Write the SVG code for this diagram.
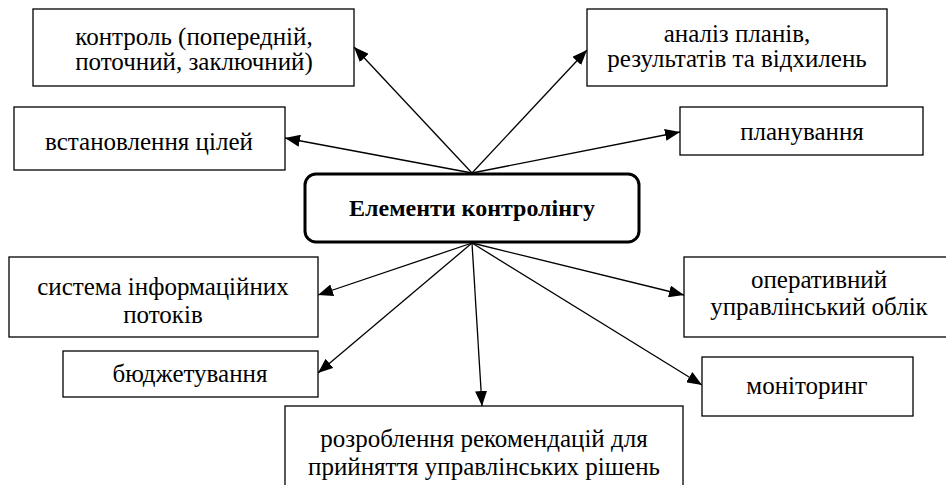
<svg xmlns="http://www.w3.org/2000/svg" width="946" height="485" viewBox="0 0 946 485">
<defs>
<marker id="ah" markerUnits="userSpaceOnUse" markerWidth="16" markerHeight="12" refX="15" refY="6" orient="auto">
<path d="M0,0 L15,6 L0,12 z" fill="#000"/>
</marker>
</defs>
<rect width="946" height="485" fill="#fff"/>
<g id="connectors" stroke="#000" stroke-width="1.3" fill="none" marker-end="url(#ah)">
<line x1="472" y1="173" x2="354" y2="47"/>
<line x1="472" y1="173" x2="285" y2="138"/>
<line x1="472" y1="173" x2="587" y2="50"/>
<line x1="472" y1="173" x2="680" y2="132"/>
<line x1="472" y1="243" x2="318" y2="295"/>
<line x1="472" y1="243" x2="318" y2="373"/>
<line x1="472" y1="243" x2="482" y2="406"/>
<line x1="472" y1="243" x2="684" y2="295"/>
<line x1="472" y1="243" x2="702" y2="385"/>
</g>
<g id="nodes" font-size="25" text-anchor="middle">
<g id="center">
<rect x="305" y="174" width="334" height="68" rx="11" ry="11" fill="#fff" stroke="#000" stroke-width="3"/>
<text font-family="Liberation Serif" font-size="24" font-weight="bold" x="472" y="216">Елементи контролінгу</text>
</g>
<g id="kontrol">
<rect x="33" y="9" width="321" height="77" fill="#fff" stroke="#000" stroke-width="1.3"/>
<text font-family="Liberation Serif" x="194" y="45">контроль (попередній,</text>
<text font-family="Liberation Serif" x="194" y="70">поточний, заключний)</text>
</g>
<g id="tsili">
<rect x="14" y="107" width="271" height="63" fill="#fff" stroke="#000" stroke-width="1.3"/>
<text font-family="Liberation Serif" x="149" y="150">встановлення цілей</text>
</g>
<g id="analiz">
<rect x="587" y="9" width="300" height="77" fill="#fff" stroke="#000" stroke-width="1.3"/>
<text font-family="Liberation Serif" x="737" y="42">аналіз планів,</text>
<text font-family="Liberation Serif" x="737" y="67">результатів та відхилень</text>
</g>
<g id="planuvannia">
<rect x="680" y="107" width="243" height="48" fill="#fff" stroke="#000" stroke-width="1.3"/>
<text font-family="Liberation Serif" x="802" y="140">планування</text>
</g>
<g id="systema">
<rect x="9" y="257" width="309" height="80" fill="#fff" stroke="#000" stroke-width="1.3"/>
<text font-family="Liberation Serif" x="163" y="295">система інформаційних</text>
<text font-family="Liberation Serif" x="163" y="323">потоків</text>
</g>
<g id="biudzhet">
<rect x="63" y="351" width="255" height="46" fill="#fff" stroke="#000" stroke-width="1.3"/>
<text font-family="Liberation Serif" x="190" y="382">бюджетування</text>
</g>
<g id="rozroblennia">
<rect x="285" y="406" width="398" height="90" fill="#fff" stroke="#000" stroke-width="1.3"/>
<text font-family="Liberation Serif" x="484" y="447">розроблення рекомендацій для</text>
<text font-family="Liberation Serif" x="484" y="475">прийняття управлінських рішень</text>
</g>
<g id="operatyvnyi">
<rect x="684" y="257" width="270" height="80" fill="#fff" stroke="#000" stroke-width="1.3"/>
<text font-family="Liberation Serif" x="819" y="288">оперативний</text>
<text font-family="Liberation Serif" x="819" y="315">управлінський облік</text>
</g>
<g id="monitorynh">
<rect x="702" y="357" width="211" height="59" fill="#fff" stroke="#000" stroke-width="1.3"/>
<text font-family="Liberation Serif" x="807" y="394">моніторинг</text>
</g>
</g>
</svg>
